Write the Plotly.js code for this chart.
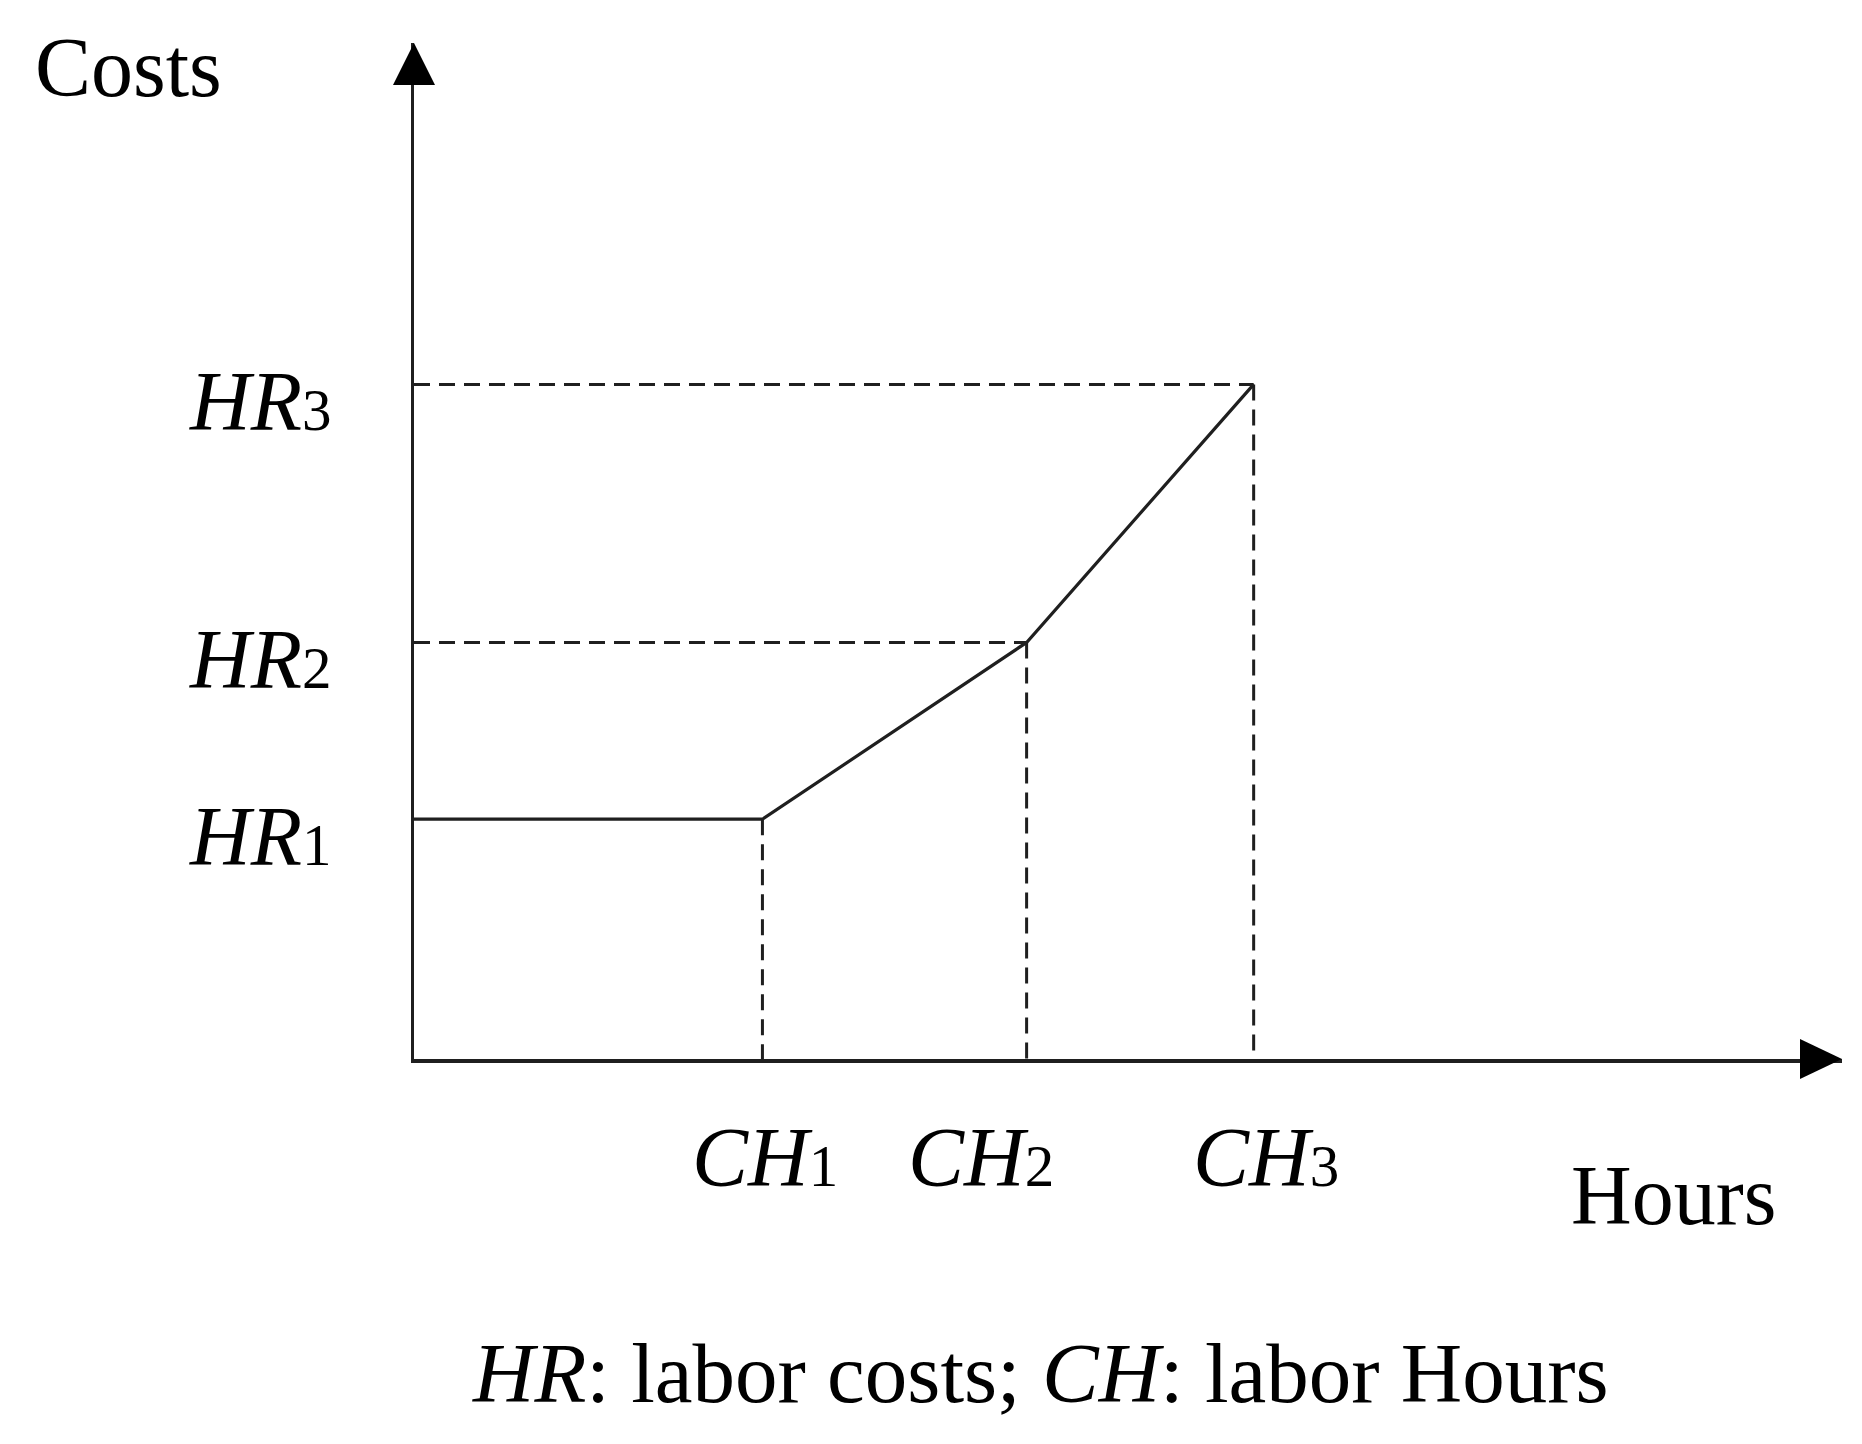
<!DOCTYPE html>
<html>
<head>
<meta charset="utf-8">
<script src="https://cdn.plot.ly/plotly-3.0.1.min.js"></script>
<style>
html, body { margin: 0; padding: 0; background: #fff; }
#chart { width: 1862px; height: 1444px; }
</style>
</head>
<body>
<div id="chart"></div>
<script>
// breakpoints of the labor cost curve (schematic units, axes run 0..10)
var hourNames = ['CH', 'CH', 'CH'];
var hourSubs = ['1', '2', '3'];
var hourValues = [2.44, 4.29, 5.88];

var costNames = ['HR', 'HR', 'HR'];
var costSubs = ['1', '2', '3'];
var costValues = [2.36, 4.10, 6.64];

var xTitle = 'Hours';
var yTitle = 'Costs';
var caption = '<i>HR</i>: labor costs; <i>CH</i>: labor Hours';

// layout tweaks
var FONT = '"Liberation Serif", "Times New Roman", serif';
var FS = 84;
var lineCol = '#1f1f1f';
var hourShift = [3, -46, 12]; // label offsets, px

function lab(name, sub) {
    return '<i>' + name + '</i><span style="font-size:' + Math.round(FS * 0.7) + 'px">' + sub + '</span>';
}

// main curve: flat up to CH1, then rising through the breakpoints
var curveX = [0].concat(hourValues);
var curveY = [costValues[0]].concat(costValues);

// dashed guides
var dashX = [], dashY = [];
for (var i = 1; i < costValues.length; i++) {
    dashX.push(0, hourValues[i], null);
    dashY.push(costValues[i], costValues[i], null);
}
for (var i = 0; i < hourValues.length; i++) {
    dashX.push(hourValues[i], hourValues[i], null);
    dashY.push(costValues[i], 0, null);
}

var traces = [
    {
        x: dashX, y: dashY, mode: 'lines', type: 'scatter',
        line: {color: lineCol, width: 3, dash: '16px,9px'},
        hoverinfo: 'skip', showlegend: false
    },
    {
        x: curveX, y: curveY, mode: 'lines', type: 'scatter',
        line: {color: lineCol, width: 3.2},
        hoverinfo: 'skip', showlegend: false
    }
];

var annotations = [];
for (var i = 0; i < costValues.length; i++) {
    annotations.push({
        x: 0, y: costValues[i], xref: 'x', yref: 'y',
        text: lab(costNames[i], costSubs[i]),
        xanchor: 'right', yanchor: 'middle', xshift: -81, yshift: -17,
        showarrow: false, font: {family: FONT, size: FS, color: '#000'}
    });
}
for (var i = 0; i < hourValues.length; i++) {
    annotations.push({
        x: hourValues[i], y: 0, xref: 'x', yref: 'y',
        text: lab(hourNames[i], hourSubs[i]),
        xanchor: 'center', yanchor: 'middle', xshift: hourShift[i], yshift: -98,
        showarrow: false, font: {family: FONT, size: FS, color: '#000'}
    });
}
annotations.push({
    x: -0.2668, y: 1, xref: 'paper', yref: 'paper', text: yTitle,
    xanchor: 'left', yanchor: 'middle', yshift: -24,
    showarrow: false, font: {family: FONT, size: FS, color: '#000'}
});
annotations.push({
    x: 0.955, y: -0.1339, xref: 'paper', yref: 'paper', text: xTitle,
    xanchor: 'right', yanchor: 'middle',
    showarrow: false, font: {family: FONT, size: FS, color: '#000'}
});
annotations.push({
    x: 0.4384, y: -0.309, xref: 'paper', yref: 'paper', text: caption,
    xanchor: 'center', yanchor: 'middle',
    showarrow: false, font: {family: FONT, size: 85, color: '#000'}
});

// arrow heads at the ends of the axes
var shapes = [
    {
        type: 'path', xref: 'paper', yref: 'paper',
        xsizemode: 'pixel', ysizemode: 'pixel', xanchor: 0, yanchor: 1,
        path: 'M-21,-42 L21,-42 L0,0 Z',
        fillcolor: '#000', line: {width: 0}
    },
    {
        type: 'path', xref: 'paper', yref: 'paper',
        xsizemode: 'pixel', ysizemode: 'pixel', xanchor: 1, yanchor: 0,
        path: 'M-42,-20 L-42,20 L0,0 Z',
        fillcolor: '#000', line: {width: 0}
    }
];

var layout = {
    width: 1862, height: 1444,
    margin: {l: 414, r: 20, t: 43, b: 385, pad: 0},
    paper_bgcolor: '#fff', plot_bgcolor: '#fff',
    showlegend: false,
    xaxis: {
        range: [0, 10], showgrid: false, zeroline: false, showticklabels: false, ticks: '',
        showline: true, linecolor: lineCol, linewidth: 3.5
    },
    yaxis: {
        range: [0, 10], showgrid: false, zeroline: false, showticklabels: false, ticks: '',
        showline: true, linecolor: lineCol, linewidth: 3.5
    },
    annotations: annotations,
    shapes: shapes
};

Plotly.newPlot('chart', traces, layout, {staticPlot: true});
</script>
</body>
</html>
